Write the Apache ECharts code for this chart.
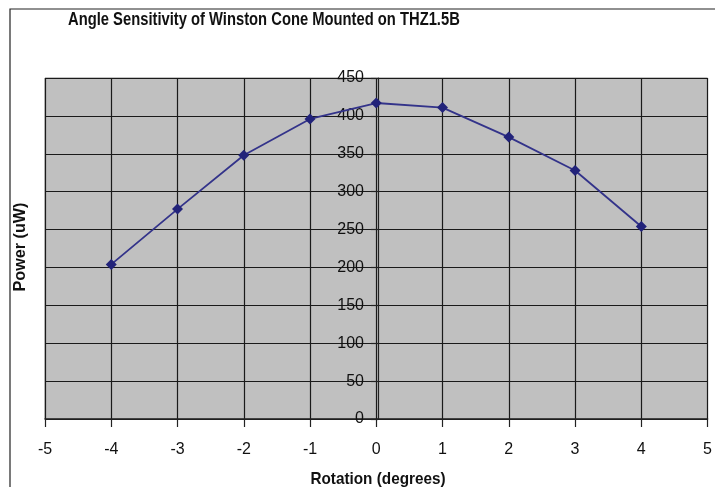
<!DOCTYPE html>
<html>
<head>
<meta charset="utf-8">
<script src="https://cdn.jsdelivr.net/npm/echarts@6/dist/echarts.min.js"></script>
<style>html,body{margin:0;padding:0;background:#fff}#c{width:715px;height:487px}</style>
</head>
<body>
<div id="c"></div>
<script>
const rotation = [-4, -3, -2, -1, 0, 1, 2, 3, 4];
const power = [204, 277, 348, 396, 417, 411, 372, 328, 254];
const titleText = 'Angle Sensitivity of Winston Cone Mounted on THZ1.5B';
const xName = 'Rotation (degrees)';
const yName = 'Power (uW)';

const chart = echarts.init(document.getElementById('c'), null, {renderer: 'canvas'});
chart.setOption({
  animation: false,
  backgroundColor: '#ffffff',
  graphic: [{
    type: 'rect', silent: true, z: -1,
    shape: {x: 10, y: 9, width: 720, height: 500},
    style: {fill: null, stroke: '#222', lineWidth: 1.2}
  }, {
    type: 'text', silent: true,
    x: 68, y: 11, scaleX: 0.82,
    style: {text: titleText, font: 'bold 18px "Liberation Sans", Arial', fill: '#111', textVerticalAlign: 'top'}
  }, {
    type: 'text', silent: true,
    x: 378, y: 471, scaleX: 0.9,
    style: {text: xName, font: 'bold 17px "Liberation Sans", Arial', fill: '#111', textAlign: 'center', textVerticalAlign: 'top'}
  }, {
    type: 'text', silent: true, rotation: Math.PI / 2,
    x: 12, y: 247, scaleX: 0.95,
    style: {text: yName, font: 'bold 17px "Liberation Sans", Arial', fill: '#111', textAlign: 'center', textVerticalAlign: 'top'}
  }],
  grid: {left: 45, right: 4, top: 78, bottom: 68, show: true, backgroundColor: '#c0c0c0', borderColor: '#888', borderWidth: 1},
  xAxis: {
    type: 'value', min: -5, max: 5, interval: 1,
    axisLine: {onZero: false, lineStyle: {color: '#222', width: 1.5}},
    axisTick: {show: true, inside: false, length: 8, lineStyle: {color: '#222', width: 1.2}},
    axisLabel: {margin: 23, fontFamily: '"Liberation Sans", Arial', fontSize: 16, color: '#111'},
    splitLine: {show: true, lineStyle: {color: '#1a1a1a', width: 1.2}}
  },
  yAxis: {
    type: 'value', min: 0, max: 450, interval: 50,
    position: 'left', offset: -333,
    axisLine: {show: true, onZero: false, lineStyle: {color: '#222', width: 1.2}},
    axisTick: {show: true, inside: false, length: 7, lineStyle: {color: '#222', width: 1.2}},
    axisLabel: {margin: 14, fontFamily: '"Liberation Sans", Arial', fontSize: 16, color: '#111'},
    splitLine: {show: true, lineStyle: {color: '#1a1a1a', width: 1.2}}
  },
  series: [{
    type: 'line',
    data: rotation.map((r, i) => [r, power[i]]),
    symbol: 'diamond', symbolSize: 11,
    lineStyle: {color: '#33338a', width: 1.8},
    itemStyle: {color: '#22237a'}
  }]
});
</script>
</body>
</html>
